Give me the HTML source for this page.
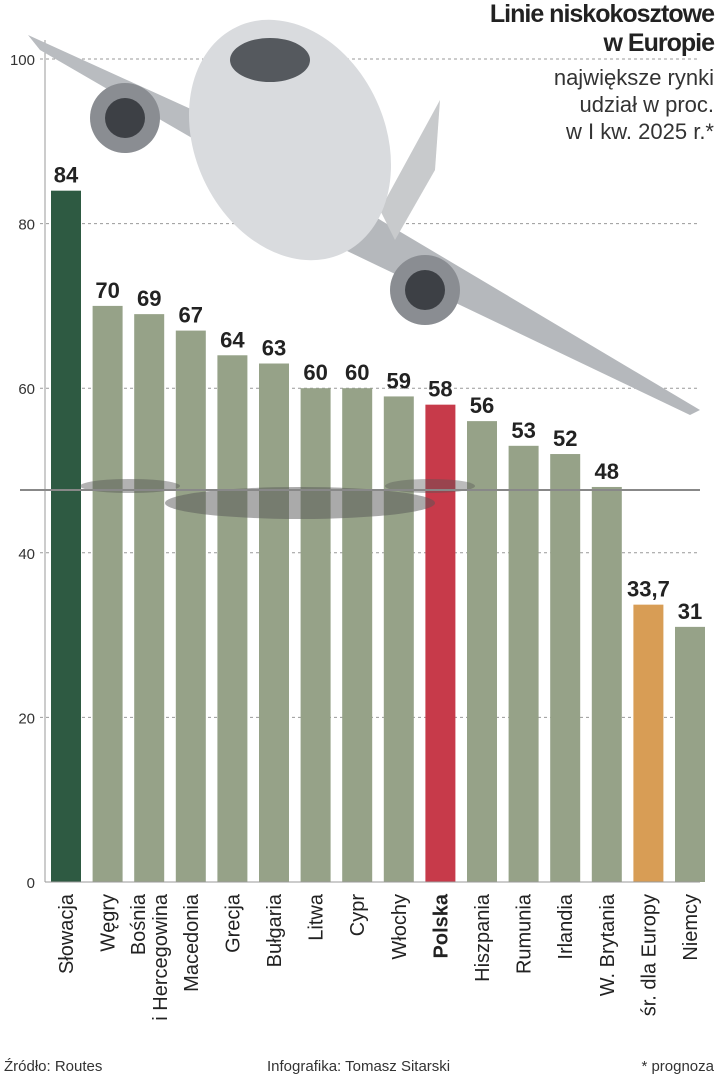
<!DOCTYPE html>
<html><head><meta charset="utf-8"><style>
body{margin:0;width:718px;height:1080px;background:#fff;font-family:"Liberation Sans",sans-serif;overflow:hidden;position:relative}
.t{position:absolute;right:4px;text-align:right;color:#222}
</style></head><body>
<svg id="c" width="718" height="1080" style="position:absolute;left:0;top:0">
<g id="plane">
<polygon points="28,35 215,120 230,160 40,50" fill="#b9bcc0"/>
<polygon points="330,190 700,410 690,415 345,250" fill="#b5b8bc"/>
<polygon points="380,210 440,100 435,170 395,240" fill="#c8cacc"/>
<ellipse cx="290" cy="140" rx="95" ry="125" transform="rotate(-25 290 140)" fill="#d9dbde"/>
<ellipse cx="270" cy="60" rx="40" ry="22" fill="#55595e"/>
<circle cx="125" cy="118" r="35" fill="#8a8d92"/><circle cx="125" cy="118" r="20" fill="#3d4045"/>
<circle cx="425" cy="290" r="35" fill="#8a8d92"/><circle cx="425" cy="290" r="20" fill="#3d4045"/>
</g>
<g id="shadow">
<ellipse cx="300" cy="503" rx="135" ry="16" fill="#555" opacity="0.5"/>
<ellipse cx="130" cy="486" rx="50" ry="7" fill="#555" opacity="0.45"/>
<ellipse cx="430" cy="486" rx="45" ry="7" fill="#555" opacity="0.4"/>
<line x1="20" y1="490" x2="700" y2="490" stroke="#888" stroke-width="2"/>
</g>
</svg>
<div class="t" style="top:0;font-size:25px;font-weight:bold;line-height:29px;letter-spacing:-1px">Linie niskokosztowe<br>w Europie</div>
<div class="t" style="top:64px;font-size:22px;line-height:27px;color:#333">największe rynki<br>udział w proc.<br>w I kw. 2025 r.*</div>
<div style="position:absolute;left:4px;top:1058px;font-size:15px;color:#333">Źródło: Routes</div>
<div style="position:absolute;left:267px;top:1058px;font-size:15px;color:#333">Infografika: Tomasz Sitarski</div>
<div style="position:absolute;right:4px;top:1058px;font-size:15px;color:#333">* prognoza</div>
<script>
const categories=["Słowacja","Węgry","Bośnia|i Hercegowina","Macedonia","Grecja","Bułgaria","Litwa","Cypr","Włochy","Polska","Hiszpania","Rumunia","Irlandia","W. Brytania","śr. dla Europy","Niemcy"];
const values=[84,70,69,67,64,63,60,60,59,58,56,53,52,48,33.7,31];
const valueLabels=["84","70","69","67","64","63","60","60","59","58","56","53","52","48","33,7","31"];
const colors=["#2e5a42","#96a288","#96a288","#96a288","#96a288","#96a288","#96a288","#96a288","#96a288","#c73a4a","#96a288","#96a288","#96a288","#96a288","#d89d55","#96a288"];
const ticks=[0,20,40,60,80,100];
const NS="http://www.w3.org/2000/svg",svg=document.getElementById('c'),plane=document.getElementById('plane'),shadow=document.getElementById('shadow');
const y=v=>882-v*8.23, x=i=>51+i*41.6, bw=30;
function mk(t,a){const e=document.createElementNS(NS,t);for(const k in a)e.setAttribute(k,a[k]);return e;}
ticks.forEach(t=>{
 if(t>0){const g=mk('line',{x1:40,x2:700,y1:y(t),y2:y(t),stroke:'#999','stroke-dasharray':'3,3'});
 
 
 svg.insertBefore(g,plane);}
 const l=mk('text',{x:35,y:y(t)+6,'text-anchor':'end','font-size':'15',fill:'#333'});l.textContent=t;
 
 
 svg.appendChild(l);
});
const ax=mk('line',{x1:45,x2:45,y1:40,y2:882,stroke:'#999'});


svg.insertBefore(ax,plane);
values.forEach((v,i)=>{
 const r=mk('rect',{x:x(i),y:y(v),width:bw,height:882-y(v),fill:colors[i]});
 
 
 svg.insertBefore(r,shadow);
 const vl=mk('text',{x:x(i)+bw/2,y:y(v)-8,'text-anchor':'middle','font-size':'22','font-weight':'bold',fill:'#222'});
 vl.textContent=valueLabels[i];
 
 
 svg.appendChild(vl);
 const parts=categories[i].split('|');
 parts.forEach((p,j)=>{
  const cx=x(i)+bw/2+7-(parts.length-1-j)*22+(parts.length>1?11:0);
  const tl=mk('text',{x:0,y:0,'text-anchor':'end','font-size':'20',fill:'#222','font-weight':i===9?'bold':'normal',transform:`translate(${cx},894) rotate(-90)`});
  tl.textContent=p;
  
  
  svg.appendChild(tl);
 });
});
const base=mk('line',{x1:45,x2:700,y1:882,y2:882,stroke:'#999'});


svg.appendChild(base);
</script>
</body></html>
